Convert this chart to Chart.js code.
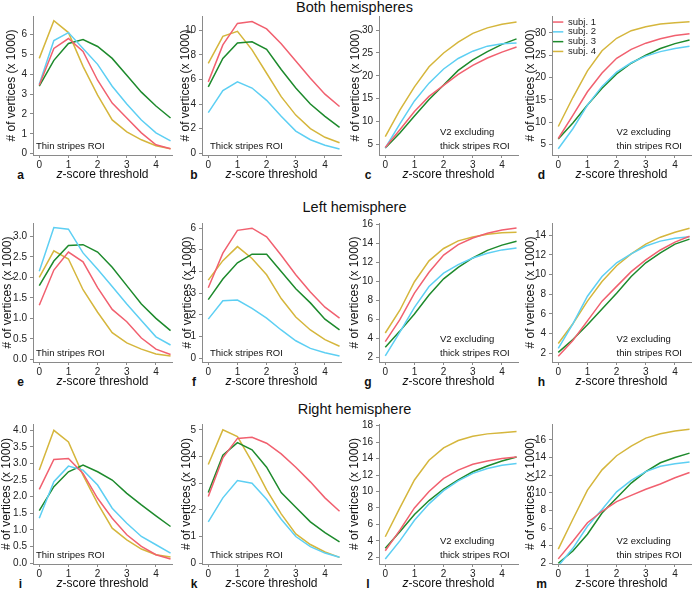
<!DOCTYPE html>
<html>
<head>
<meta charset="utf-8">
<script src="https://cdn.jsdelivr.net/npm/chart.js@4"></script>
<style>
body { margin: 0; background: #fff; width: 697px; height: 591px; position: relative; overflow: hidden;
       font-family: "Liberation Sans", Arial, Helvetica, sans-serif; }
canvas { position: absolute; }
.row-title { position: absolute; font-size: 14.5px; color: #111; transform: translate(-50%, -50%); white-space: nowrap; }
.letter { position: absolute; font-size: 12px; font-weight: bold; color: #111; transform: translate(-50%, -50%); }
</style>
</head>
<body>
<script>
// x values (z-score threshold) shared by every panel
var zScores = [0, 0.5, 1, 1.5, 2, 2.5, 3, 3.5, 4, 4.5];
var subjects = ['subj. 1', 'subj. 2', 'subj. 3', 'subj. 4'];
var rowTitles = ['Both hemispheres', 'Left hemisphere', 'Right hemisphere'];
var panelLetters = ['a', 'b', 'c', 'd', 'e', 'f', 'g', 'h', 'i', 'k', 'l', 'm'];
var xTickLabels = ['0', '1', '2', '3', '4'];

// number of vertices (x 1000), one row per subject
var bothThin = [
  [3.45, 5.3, 5.8, 5.15, 3.7, 2.55, 1.8, 1.05, 0.45, 0.25],
  [3.5, 5.7, 6.1, 5.3, 4.5, 3.4, 2.5, 1.7, 1.05, 0.65],
  [3.4, 4.7, 5.55, 5.75, 5.4, 4.8, 3.95, 3.1, 2.4, 1.8],
  [4.8, 6.7, 6.1, 4.4, 2.95, 1.7, 1.1, 0.7, 0.4, 0.25]
];
var bothThick = [
  [5.8, 8.8, 10.55, 10.7, 10.1, 8.9, 7.5, 6.1, 4.8, 3.8],
  [3.3, 5.1, 5.8, 5.3, 4.3, 3.0, 1.8, 1.1, 0.65, 0.35],
  [5.4, 7.7, 8.95, 9.05, 8.45, 6.8, 5.3, 4.0, 3.0, 2.1],
  [7.3, 9.5, 9.9, 8.4, 6.5, 4.6, 3.1, 2.0, 1.3, 0.85]
];
var bothExThick = [
  [4.3, 8.2, 12.2, 15.5, 17.9, 20.3, 22.3, 23.9, 25.2, 26.3],
  [4.2, 9.5, 14.5, 18.4, 21.5, 23.8, 25.4, 26.5, 27.0, 27.2],
  [4.2, 7.5, 11.2, 14.8, 18.0, 21.2, 23.5, 25.3, 26.9, 28.1],
  [6.7, 12.5, 17.6, 22.0, 25.0, 27.4, 29.3, 30.5, 31.3, 31.8]
];
var bothExThin = [
  [6.3, 11.5, 16.8, 21.0, 24.3, 26.3, 27.7, 28.7, 29.4, 29.8],
  [4.0, 8.5, 13.8, 18.0, 21.2, 23.3, 24.8, 25.8, 26.5, 27.0],
  [6.2, 9.8, 13.8, 17.6, 20.8, 23.2, 25.0, 26.5, 27.6, 28.4],
  [9.0, 15.5, 21.5, 26.0, 28.8, 30.5, 31.4, 32.0, 32.3, 32.5]
];
var leftThin = [
  [1.32, 2.18, 2.62, 2.38, 1.75, 1.22, 0.92, 0.52, 0.25, 0.12],
  [2.15, 3.22, 3.18, 2.6, 2.2, 1.78, 1.35, 0.95, 0.55, 0.35],
  [1.8, 2.4, 2.78, 2.8, 2.62, 2.25, 1.8, 1.35, 1.0, 0.7],
  [2.0, 2.65, 2.45, 1.7, 1.15, 0.65, 0.4, 0.25, 0.13, 0.08]
];
var leftThick = [
  [3.25, 4.85, 5.9, 6.0, 5.6, 4.75, 3.85, 3.05, 2.35, 1.85],
  [1.8, 2.65, 2.68, 2.3, 1.85, 1.3, 0.8, 0.45, 0.25, 0.1],
  [2.7, 3.65, 4.4, 4.8, 4.8, 4.0, 3.2, 2.55, 1.8, 1.3],
  [3.6, 4.5, 5.15, 4.6, 3.85, 2.75, 1.9, 1.3, 0.85, 0.55]
];
var leftExThick = [
  [3.7, 6.0, 8.8, 11.0, 12.8, 13.9, 14.6, 15.1, 15.45, 15.65],
  [2.2, 4.7, 7.3, 9.5, 10.9, 11.8, 12.5, 13.0, 13.35, 13.55],
  [3.1, 4.8, 6.6, 8.6, 10.3, 11.5, 12.5, 13.3, 13.85, 14.25],
  [4.6, 7.0, 10.0, 12.2, 13.5, 14.3, 14.7, 15.0, 15.15, 15.2]
];
var leftExThin = [
  [1.7, 3.3, 5.3, 7.3, 8.8, 10.3, 11.5, 12.5, 13.3, 13.9],
  [2.5, 5.0, 7.8, 9.8, 11.2, 12.1, 12.9, 13.4, 13.7, 13.85],
  [2.1, 3.4, 4.9, 6.5, 8.1, 9.8, 11.2, 12.2, 13.1, 13.6],
  [3.0, 5.0, 7.3, 9.3, 10.9, 12.1, 13.1, 13.8, 14.3, 14.7]
];
var rightThin = [
  [2.22, 3.12, 3.15, 2.7, 1.95, 1.35, 0.85, 0.5, 0.25, 0.12],
  [1.35, 2.45, 2.92, 2.8, 2.35, 1.65, 1.2, 0.8, 0.55, 0.3],
  [1.58, 2.3, 2.75, 2.95, 2.75, 2.5, 2.1, 1.75, 1.42, 1.1],
  [2.8, 4.0, 3.65, 2.65, 1.8, 1.05, 0.7, 0.42, 0.25, 0.18]
];
var rightThick = [
  [2.5, 3.95, 4.68, 4.72, 4.5, 4.1, 3.6, 3.05, 2.45, 1.95],
  [1.55, 2.45, 3.1, 3.0, 2.4, 1.65, 1.0, 0.62, 0.38, 0.22],
  [2.65, 4.05, 4.52, 4.25, 3.6, 2.65, 2.1, 1.55, 1.15, 0.8],
  [3.7, 5.0, 4.75, 3.8, 2.75, 1.85, 1.1, 0.7, 0.42, 0.22]
];
var rightExThick = [
  [2.8, 5.3, 8.0, 10.0, 11.6, 12.6, 13.3, 13.7, 14.0, 14.2],
  [1.8, 4.0, 6.5, 8.5, 10.1, 11.3, 12.2, 12.8, 13.2, 13.4],
  [3.1, 5.1, 7.2, 8.9, 10.3, 11.4, 12.4, 13.1, 13.7, 14.2],
  [4.5, 8.0, 11.4, 13.8, 15.3, 16.2, 16.7, 17.0, 17.15, 17.3]
];
var rightExThin = [
  [2.5, 4.5, 6.6, 7.9, 9.0, 9.7, 10.4, 11.0, 11.7, 12.3],
  [1.7, 3.7, 6.2, 8.1, 10.1, 11.4, 12.4, 13.0, 13.3, 13.5],
  [2.0, 3.4, 5.3, 7.7, 9.4, 11.1, 12.4, 13.4, 14.0, 14.5],
  [3.6, 7.0, 10.3, 12.6, 14.2, 15.3, 16.2, 16.7, 17.0, 17.2]
];

// y tick labels per panel
var ticks0to6 = ['0', '1', '2', '3', '4', '5', '6'];
var ticks0to10 = ['0', '2', '4', '6', '8', '10'];
var ticks5to30 = ['5', '10', '15', '20', '25', '30'];
var ticks0to3 = ['0.0', '0.5', '1.0', '1.5', '2.0', '2.5', '3.0'];
var ticks2to16 = ['2', '4', '6', '8', '10', '12', '14', '16'];
var ticks2to14 = ['2', '4', '6', '8', '10', '12', '14'];
var ticks0to4 = ['0.0', '0.5', '1.0', '1.5', '2.0', '2.5', '3.0', '3.5', '4.0'];
var ticks0to5 = ['0', '1', '2', '3', '4', '5'];
var ticks2to18 = ['2', '4', '6', '8', '10', '12', '14', '16', '18'];

var roiLabels = [['Thin stripes ROI'], ['Thick stripes ROI'], ['V2 excluding', 'thick stripes ROI'], ['V2 excluding', 'thin stripes ROI']];

var panelData = [bothThin, bothThick, bothExThick, bothExThin, leftThin, leftThick, leftExThick, leftExThin,
                 rightThin, rightThick, rightExThick, rightExThin];
var panelTicks = [ticks0to6, ticks0to10, ticks5to30, ticks5to30, ticks0to3, ticks0to6, ticks2to16, ticks2to14,
                  ticks0to4, ticks0to5, ticks2to18, ticks2to16];
var panelYRange = [[-0.065, 6.935], [-0.14, 11.15], [2.67, 33.1], [2.6, 33.8],
                   [-0.065, 3.33], [-0.18, 6.24], [1.55, 16.18], [1.12, 15.24],
                   [-0.03, 4.19], [-0.03, 5.22], [1.19, 18.2], [1.92, 17.8]];

// layout
var colX = [33, 202, 379, 552];
var rowTop = [15, 222, 423];
var rowBottom = [155, 362, 564];
var titleGap = [21.5, 16.7, 23.3, 21.6, 25.8, 14.7, 24.3, 21.6, 27, 15.6, 24.3, 21.6];
var rowTitleY = [7, 207, 409];
var letterX = [20.5, 194, 368, 541.5];
var letterY = [175, 382, 584];
var roiDx = [3, 8, 61, 64.5];

var colors = ['#f1606f', '#5dcff3', '#1d8a2c', '#d5b63c'];
var FONT = '"Liberation Sans", Arial, Helvetica, sans-serif';
Chart.defaults.font.family = FONT;

rowTitles.forEach(function (t, r) {
  var d = document.createElement('div');
  d.className = 'row-title';
  d.textContent = t;
  d.style.left = '354.5px';
  d.style.top = rowTitleY[r] + 'px';
  document.body.appendChild(d);
});

panelLetters.forEach(function (t, p) {
  var d = document.createElement('div');
  d.className = 'letter';
  d.textContent = t;
  d.style.left = letterX[p % 4] + 'px';
  d.style.top = letterY[Math.floor(p / 4)] + 'px';
  document.body.appendChild(d);
});

function makeTextPlugin(roi, dx) {
  return {
    id: 'panelText',
    afterDraw: function (chart) {
      var ctx = chart.ctx, a = chart.chartArea;
      ctx.save();
      ctx.fillStyle = '#111';
      ctx.textBaseline = 'middle';
      ctx.textAlign = 'left';
      ctx.font = 'italic 12px ' + FONT;
      var zw = ctx.measureText('z').width;
      ctx.font = '12px ' + FONT;
      var rw = ctx.measureText('-score threshold').width;
      var x = (a.left + a.right) / 2 - (zw + rw) / 2;
      var y = a.bottom + 20;
      ctx.font = 'italic 12px ' + FONT;
      ctx.fillText('z', x, y);
      ctx.font = '12px ' + FONT;
      ctx.fillText('-score threshold', x + zw, y);
      ctx.font = '9.5px ' + FONT;
      var base = a.bottom - 8.3 - (roi.length - 1) * 14;
      roi.forEach(function (t, i) {
        ctx.fillText(t, a.left + dx, base + i * 14);
      });
      ctx.restore();
    }
  };
}

var padTop = 8, xAxisH = 27, plotW = 139, padRight = 6;

panelData.forEach(function (series, p) {
  var r = Math.floor(p / 4), c = p % 4;
  var yAxisW = Math.round(titleGap[p] + 7.2);
  var cv = document.createElement('canvas');
  var w = yAxisW + plotW + padRight;
  var h = padTop + (rowBottom[r] - rowTop[r]) + xAxisH;
  cv.width = w; cv.height = h;
  cv.style.width = w + 'px'; cv.style.height = h + 'px';
  cv.style.left = (colX[c] - yAxisW) + 'px';
  cv.style.top = (rowTop[r] - padTop) + 'px';
  document.body.appendChild(cv);

  var yLabels = panelTicks[p];
  var datasets = series.map(function (vals, s) {
    return {
      label: subjects[s],
      data: vals.map(function (v, i) { return {x: zScores[i], y: v}; }),
      borderColor: colors[s],
      backgroundColor: colors[s],
      borderWidth: 1.5,
      pointRadius: 0,
      tension: 0
    };
  });

  var axisGrid = {display: true, drawOnChartArea: false, drawTicks: true, tickLength: 3, color: '#8a8a8a'};
  var axisBorder = {display: true, color: '#8a8a8a', width: 1};

  new Chart(cv.getContext('2d'), {
    type: 'line',
    data: {datasets: datasets},
    options: {
      responsive: false,
      animation: false,
      devicePixelRatio: 1,
      layout: {padding: {top: padTop, right: padRight, left: 0, bottom: 0}},
      plugins: {
        tooltip: {enabled: false},
        legend: {
          display: p === 3,
          position: 'chartArea',
          align: 'start',
          title: {display: true, text: '', font: {size: 1, lineHeight: 1}, padding: {top: 9, bottom: 0}},
          labels: {
            usePointStyle: true,
            pointStyle: 'line',
            pointStyleWidth: 11,
            boxHeight: 9.5,
            padding: 0.3,
            color: '#222',
            font: {size: 9.5}
          }
        }
      },
      scales: {
        x: {
          type: 'linear',
          min: -0.215,
          max: 4.55,
          grid: axisGrid,
          border: axisBorder,
          afterBuildTicks: function (s) { s.ticks = xTickLabels.map(function (t) { return {value: parseFloat(t)}; }); },
          afterFit: function (s) { s.height = xAxisH; },
          ticks: {
            color: '#222', padding: 1, font: {size: 10}, maxRotation: 0,
            callback: function (v, i) { return xTickLabels[i]; }
          }
        },
        y: {
          type: 'linear',
          min: panelYRange[p][0],
          max: panelYRange[p][1],
          grid: axisGrid,
          border: axisBorder,
          afterBuildTicks: function (s) { s.ticks = yLabels.map(function (t) { return {value: parseFloat(t)}; }); },
          afterFit: function (s) { s.width = yAxisW; },
          ticks: {
            color: '#222', padding: 3, font: {size: 10},
            callback: function (v, i) { return yLabels[i]; }
          },
          title: {
            display: true,
            text: '# of vertices (x 1000)',
            color: '#111',
            font: {size: 12, lineHeight: 1.2},
            padding: {top: 0, bottom: 0}
          }
        }
      }
    },
    plugins: [makeTextPlugin(roiLabels[c], roiDx[c])]
  });
});
</script>
</body>
</html>
